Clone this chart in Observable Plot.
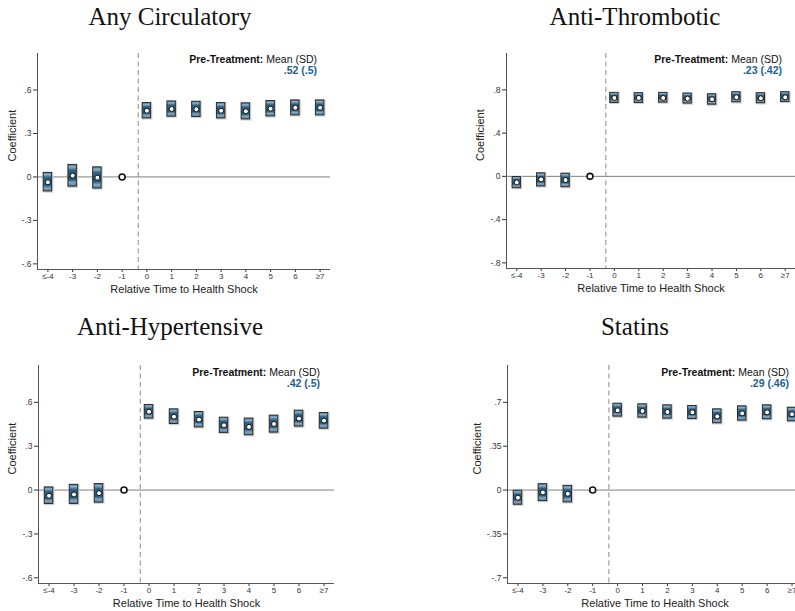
<!DOCTYPE html>
<html>
<head>
<meta charset="utf-8">
<script src="https://cdn.jsdelivr.net/npm/d3@7"></script>
<script src="https://cdn.jsdelivr.net/npm/@observablehq/plot@0.6"></script>
<style>
  body { margin: 0; background: #fff; }
  #page { position: relative; width: 795px; height: 611px; overflow: hidden;
          font-family: "Liberation Sans", Arial, sans-serif; }
  .title { position: absolute; font-family: "Liberation Serif", "Times New Roman", serif;
           font-size: 25px; line-height: 25px; color: #111; white-space: nowrap;
           transform: translateX(-50%); }
  .note { position: absolute; font-size: 10.5px; line-height: 11px; text-align: right;
          white-space: nowrap; color: #111; }
  .note .val { color: #1b5f8f; font-weight: bold; }
  .panel { position: absolute; }
</style>
</head>
<body>
<div id="page"></div>
<script>
// Event-time periods (binned at both ends) and their axis labels
const periods = [-4, -3, -2, -1, 0, 1, 2, 3, 4, 5, 6, 7];
const periodLabels = ["≤-4", "-3", "-2", "-1", "0", "1", "2", "3", "4", "5", "6", "≥7"];
const referencePeriod = -1;
const shockAt = -0.35;

const outcomes = ["Any Circulatory", "Anti-Thrombotic", "Anti-Hypertensive", "Statins"];

// Point estimates and 95% confidence bounds (period -1 is the omitted reference)
const circEst = [-0.037, 0.009, -0.005, 0, 0.457, 0.469, 0.467, 0.457, 0.453, 0.471, 0.478, 0.478];
const circLo  = [-0.100, -0.067, -0.080, null, 0.404, 0.416, 0.414, 0.404, 0.397, 0.418, 0.425, 0.425];
const circHi  = [0.028, 0.083, 0.066, null, 0.510, 0.521, 0.519, 0.510, 0.508, 0.524, 0.528, 0.528];

const thrombEst = [-0.056, -0.028, -0.034, 0, 0.725, 0.725, 0.725, 0.719, 0.713, 0.731, 0.722, 0.731];
const thrombLo  = [-0.109, -0.093, -0.100, null, 0.679, 0.679, 0.682, 0.673, 0.663, 0.685, 0.676, 0.688];
const thrombHi  = [-0.006, 0.028, 0.025, null, 0.772, 0.769, 0.772, 0.766, 0.759, 0.778, 0.769, 0.778];

const hyperEst = [-0.039, -0.030, -0.021, 0, 0.536, 0.502, 0.482, 0.443, 0.432, 0.452, 0.489, 0.475];
const hyperLo  = [-0.095, -0.095, -0.086, null, 0.489, 0.452, 0.429, 0.391, 0.375, 0.393, 0.434, 0.420];
const hyperHi  = [0.018, 0.036, 0.041, null, 0.582, 0.552, 0.534, 0.495, 0.489, 0.509, 0.543, 0.527];

const statinEst = [-0.061, -0.019, -0.029, 0, 0.636, 0.631, 0.623, 0.620, 0.588, 0.612, 0.620, 0.605];
const statinLo  = [-0.117, -0.088, -0.098, null, 0.586, 0.578, 0.570, 0.567, 0.533, 0.554, 0.565, 0.549];
const statinHi  = [-0.005, 0.047, 0.034, null, 0.689, 0.684, 0.676, 0.671, 0.644, 0.668, 0.676, 0.657];

// Pre-treatment mean and SD of each outcome
const preMean = [0.52, 0.23, 0.42, 0.29];
const preSD   = [0.5, 0.42, 0.5, 0.46];

// Y-axis tick step for each panel
const yStep = [0.3, 0.4, 0.3, 0.35];

const series = [
  [circEst, circLo, circHi],
  [thrombEst, thrombLo, thrombHi],
  [hyperEst, hyperLo, hyperHi],
  [statinEst, statinLo, statinHi]
];

// Panel placement on the page
const layout = [
  {left: 0,   top: 40,  width: 340, height: 260, mt: 13, mr: 10, mb: 31, ml: 37, titleX: 170, titleTop: 4,   noteRight: 317, noteTop: 54,  yLabelDx: -25},
  {left: 440, top: 40,  width: 355, height: 260, mt: 13, mr: 0,  mb: 32, ml: 66, titleX: 635, titleTop: 4,   noteRight: 782, noteTop: 54,  yLabelDx: -26},
  {left: 0,   top: 350, width: 340, height: 261, mt: 15, mr: 6,  mb: 28, ml: 38, titleX: 170, titleTop: 314, noteRight: 320, noteTop: 367, yLabelDx: -26},
  {left: 440, top: 350, width: 355, height: 261, mt: 15, mr: -7, mb: 28, ml: 67, titleX: 635, titleTop: 314, noteRight: 789, noteTop: 367, yLabelDx: -30}
];

// Stata-style number format: no leading zero
const fmt = v => v === 0 ? "0" : (v < 0 ? "-" : "") + String(+Math.abs(v).toFixed(3)).replace(/^0/, "");

const xDomain = [-4.42, 7.42];
const halfWidth = 0.17;
const page = document.getElementById("page");

outcomes.forEach((name, i) => {
  const L = layout[i];
  const [est, lo, hi] = series[i];
  const rows = periods.map((t, j) => ({t, est: est[j], lo: lo[j], hi: hi[j]}));
  const ciRows = rows.filter(d => d.lo != null);
  const step = yStep[i];
  const yDomain = [-2.13 * step, 2.84 * step];
  const yTicks = [-2, -1, 0, 1, 2].map(k => +(k * step).toFixed(3));
  const gradId = "ciShade" + i;

  const chart = Plot.plot({
    width: L.width,
    height: L.height,
    marginTop: L.mt,
    marginRight: L.mr,
    marginBottom: L.mb,
    marginLeft: L.ml,
    style: {fontFamily: "'Liberation Sans', Arial, sans-serif", fontSize: "8px", color: "#333", background: "transparent"},
    x: {domain: xDomain},
    y: {domain: yDomain},
    marks: [
      Plot.axisX({ticks: periods, tickFormat: d => periodLabels[periods.indexOf(d)], tickSize: 3, tickPadding: 1, label: null}),
      Plot.axisY({ticks: yTicks, tickFormat: fmt, tickSize: 4, tickPadding: 2, fontSize: 8.5, label: null}),
      Plot.ruleY([0], {stroke: "#7f7f7f", strokeWidth: 1}),
      Plot.ruleX([shockAt], {stroke: "#8a8a8a", strokeWidth: 1, strokeDasharray: "5,3.5"}),
      Plot.ruleX([xDomain[0]], {stroke: "#555", strokeWidth: 1}),
      Plot.ruleY([yDomain[0]], {stroke: "#555", strokeWidth: 1}),
      // soft halo behind each confidence bar
      Plot.rect(ciRows, {x1: d => d.t - halfWidth, x2: d => d.t + halfWidth, y1: "lo", y2: "hi",
        fill: "none", stroke: "#cfcfcf", strokeWidth: 2, dx: 0.7, dy: 0.7}),
      Plot.rect(ciRows, {x1: d => d.t - halfWidth, x2: d => d.t + halfWidth, y1: "lo", y2: "hi",
        fill: `url(#${gradId})`, stroke: "#2b2b2b", strokeWidth: 1}),
      Plot.dot(rows.filter(d => d.t !== referencePeriod), {x: "t", y: "est", r: 2.5,
        fill: "white", stroke: "#111", strokeWidth: 1}),
      Plot.dot(rows.filter(d => d.t === referencePeriod), {x: "t", y: "est", r: 3,
        fill: "white", stroke: "#111", strokeWidth: 1.6}),
      Plot.text(["Relative Time to Health Shock"], {frameAnchor: "bottom", lineAnchor: "middle", dy: 20, fontSize: 11, fill: "#222"}),
      Plot.text(["Coefficient"], {frameAnchor: "left", lineAnchor: "middle", rotate: -90, dx: L.yLabelDx, fontSize: 11, fill: "#222"})
    ]
  });

  // vertical shading used inside the confidence bars
  const defs = document.createElementNS("http://www.w3.org/2000/svg", "defs");
  defs.innerHTML = `<linearGradient id="${gradId}" x1="0" y1="0" x2="0" y2="1">
      <stop offset="0" stop-color="#4b7898"/>
      <stop offset="0.12" stop-color="#93afc5"/>
      <stop offset="0.28" stop-color="#276287"/>
      <stop offset="0.68" stop-color="#1d5578"/>
      <stop offset="0.84" stop-color="#87a5bd"/>
      <stop offset="1" stop-color="#557f9e"/>
    </linearGradient>`;
  chart.insertBefore(defs, chart.firstChild);

  const wrap = document.createElement("div");
  wrap.className = "panel";
  wrap.style.left = L.left + "px";
  wrap.style.top = L.top + "px";
  wrap.appendChild(chart);
  page.appendChild(wrap);

  const title = document.createElement("div");
  title.className = "title";
  title.style.left = L.titleX + "px";
  title.style.top = L.titleTop + "px";
  title.textContent = name;
  page.appendChild(title);

  const note = document.createElement("div");
  note.className = "note";
  note.style.right = (795 - L.noteRight) + "px";
  note.style.top = L.noteTop + "px";
  note.innerHTML = `<b>Pre-Treatment:</b> Mean (SD)<br><span class="val">${fmt(preMean[i])} (${fmt(preSD[i])})</span>`;
  page.appendChild(note);
});
</script>
</body>
</html>
